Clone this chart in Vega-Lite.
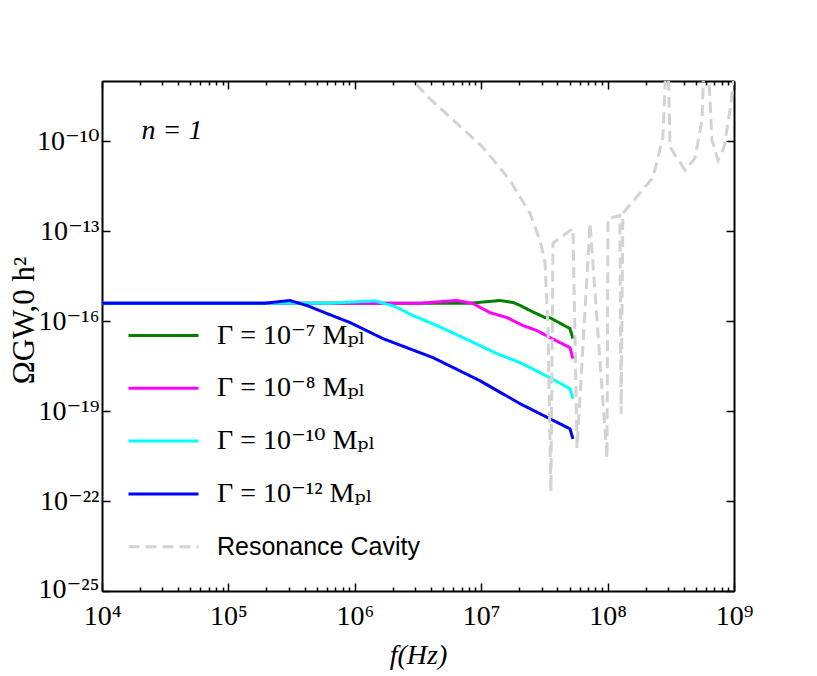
{
  "$schema": "https://vega.github.io/schema/vega-lite/v6.json",
  "width": 632,
  "height": 510,
  "autosize": {"type": "none"},
  "padding": {"left": 102, "top": 81, "right": 83, "bottom": 85},
  "background": "white",
  "config": {"view": {"stroke": null}, "font": "Liberation Serif"},
  "data": {"values": [
    {"s": "Γ = 10⁻⁷ Mₚₗ", "f": 1e4, "o": 3.92e-16},
    {"s": "Γ = 10⁻⁷ Mₚₗ", "f": 8.15e6, "o": 3.92e-16},
    {"s": "Γ = 10⁻⁷ Mₚₗ", "f": 1.41e7, "o": 4.82e-16},
    {"s": "Γ = 10⁻⁷ Mₚₗ", "f": 1.79e7, "o": 4.13e-16},
    {"s": "Γ = 10⁻⁷ Mₚₗ", "f": 2.03e7, "o": 3.3e-16},
    {"s": "Γ = 10⁻⁷ Mₚₗ", "f": 2.43e7, "o": 2.24e-16},
    {"s": "Γ = 10⁻⁷ Mₚₗ", "f": 3.2e7, "o": 1.3e-16},
    {"s": "Γ = 10⁻⁷ Mₚₗ", "f": 3.5e7, "o": 1.28e-16},
    {"s": "Γ = 10⁻⁷ Mₚₗ", "f": 5.04e7, "o": 5.6e-17},
    {"s": "Γ = 10⁻⁷ Mₚₗ", "f": 5.32e7, "o": 2.59e-17},
    {"s": "Γ = 10⁻⁸ Mₚₗ", "f": 1e4, "o": 3.92e-16},
    {"s": "Γ = 10⁻⁸ Mₚₗ", "f": 3.28e6, "o": 3.92e-16},
    {"s": "Γ = 10⁻⁸ Mₚₗ", "f": 6.44e6, "o": 4.82e-16},
    {"s": "Γ = 10⁻⁸ Mₚₗ", "f": 8.61e6, "o": 3.83e-16},
    {"s": "Γ = 10⁻⁸ Mₚₗ", "f": 1.17e7, "o": 1.91e-16},
    {"s": "Γ = 10⁻⁸ Mₚₗ", "f": 1.6e7, "o": 1.3e-16},
    {"s": "Γ = 10⁻⁸ Mₚₗ", "f": 2.14e7, "o": 7.05e-17},
    {"s": "Γ = 10⁻⁸ Mₚₗ", "f": 2.76e7, "o": 4.8e-17},
    {"s": "Γ = 10⁻⁸ Mₚₗ", "f": 3.5e7, "o": 2.8e-17},
    {"s": "Γ = 10⁻⁸ Mₚₗ", "f": 5.04e7, "o": 1.3e-17},
    {"s": "Γ = 10⁻⁸ Mₚₗ", "f": 5.32e7, "o": 5.6e-18},
    {"s": "Γ = 10⁻¹⁰ Mₚₗ", "f": 1e4, "o": 3.92e-16},
    {"s": "Γ = 10⁻¹⁰ Mₚₗ", "f": 6.37e5, "o": 3.92e-16},
    {"s": "Γ = 10⁻¹⁰ Mₚₗ", "f": 1.44e6, "o": 4.7e-16},
    {"s": "Γ = 10⁻¹⁰ Mₚₗ", "f": 2.08e6, "o": 3.04e-16},
    {"s": "Γ = 10⁻¹⁰ Mₚₗ", "f": 2.89e6, "o": 1.52e-16},
    {"s": "Γ = 10⁻¹⁰ Mₚₗ", "f": 4.47e6, "o": 7.05e-17},
    {"s": "Γ = 10⁻¹⁰ Mₚₗ", "f": 7.18e6, "o": 2.8e-17},
    {"s": "Γ = 10⁻¹⁰ Mₚₗ", "f": 1.33e7, "o": 8.2e-18},
    {"s": "Γ = 10⁻¹⁰ Mₚₗ", "f": 2.03e7, "o": 4.1e-18},
    {"s": "Γ = 10⁻¹⁰ Mₚₗ", "f": 3.5e7, "o": 1.29e-18},
    {"s": "Γ = 10⁻¹⁰ Mₚₗ", "f": 5.04e7, "o": 5.5e-19},
    {"s": "Γ = 10⁻¹⁰ Mₚₗ", "f": 5.32e7, "o": 2.57e-19},
    {"s": "Γ = 10⁻¹² Mₚₗ", "f": 1e4, "o": 3.92e-16},
    {"s": "Γ = 10⁻¹² Mₚₗ", "f": 1.95e5, "o": 3.92e-16},
    {"s": "Γ = 10⁻¹² Mₚₗ", "f": 3.07e5, "o": 4.82e-16},
    {"s": "Γ = 10⁻¹² Mₚₗ", "f": 4.19e5, "o": 3.28e-16},
    {"s": "Γ = 10⁻¹² Mₚₗ", "f": 6.03e5, "o": 1.77e-16},
    {"s": "Γ = 10⁻¹² Mₚₗ", "f": 9.16e5, "o": 8.9e-17},
    {"s": "Γ = 10⁻¹² Mₚₗ", "f": 1.67e6, "o": 2.59e-17},
    {"s": "Γ = 10⁻¹² Mₚₗ", "f": 4.16e6, "o": 6.0e-18},
    {"s": "Γ = 10⁻¹² Mₚₗ", "f": 9.78e6, "o": 1.02e-18},
    {"s": "Γ = 10⁻¹² Mₚₗ", "f": 2.03e7, "o": 1.75e-19},
    {"s": "Γ = 10⁻¹² Mₚₗ", "f": 3.5e7, "o": 5.5e-20},
    {"s": "Γ = 10⁻¹² Mₚₗ", "f": 5.04e7, "o": 2.55e-20},
    {"s": "Γ = 10⁻¹² Mₚₗ", "f": 5.32e7, "o": 1.18e-20},
    {"s": "Resonance Cavity", "f": 2.49e6, "o": 2.0e-8},
    {"s": "Resonance Cavity", "f": 2.89e6, "o": 1.0e-8},
    {"s": "Resonance Cavity", "f": 3.94e6, "o": 2.5e-9},
    {"s": "Resonance Cavity", "f": 5.66e6, "o": 6.3e-10},
    {"s": "Resonance Cavity", "f": 1.03e7, "o": 6.2e-11},
    {"s": "Resonance Cavity", "f": 1.69e7, "o": 4.9e-12},
    {"s": "Resonance Cavity", "f": 2.43e7, "o": 3.9e-13},
    {"s": "Resonance Cavity", "f": 2.92e7, "o": 4.9e-14},
    {"s": "Resonance Cavity", "f": 3.2e7, "o": 8.9e-15},
    {"s": "Resonance Cavity", "f": 3.38e7, "o": 4.8e-17},
    {"s": "Resonance Cavity", "f": 3.56e7, "o": 2.1e-22},
    {"s": "Resonance Cavity", "f": 3.7e7, "o": 3.9e-14},
    {"s": "Resonance Cavity", "f": 5.32e7, "o": 1.23e-13},
    {"s": "Resonance Cavity", "f": 5.73e7, "o": 5.9e-21},
    {"s": "Resonance Cavity", "f": 7.26e7, "o": 1.8e-13},
    {"s": "Resonance Cavity", "f": 9.89e7, "o": 2.7e-21},
    {"s": "Resonance Cavity", "f": 1.007e8, "o": 2.6e-13},
    {"s": "Resonance Cavity", "f": 1.25e8, "o": 3.3e-13},
    {"s": "Resonance Cavity", "f": 1.28e8, "o": 8.1e-20},
    {"s": "Resonance Cavity", "f": 1.32e8, "o": 3.9e-13},
    {"s": "Resonance Cavity", "f": 1.8e8, "o": 1.8e-12},
    {"s": "Resonance Cavity", "f": 2.29e8, "o": 6.2e-12},
    {"s": "Resonance Cavity", "f": 2.74e8, "o": 1.35e-10},
    {"s": "Resonance Cavity", "f": 2.9e8, "o": 5e-8},
    {"s": "Resonance Cavity", "f": 3.01e8, "o": 5e-8},
    {"s": "Resonance Cavity", "f": 3.12e8, "o": 6.2e-11},
    {"s": "Resonance Cavity", "f": 4.1e8, "o": 1.07e-11},
    {"s": "Resonance Cavity", "f": 4.91e8, "o": 2.7e-11},
    {"s": "Resonance Cavity", "f": 5.58e8, "o": 5e-10},
    {"s": "Resonance Cavity", "f": 5.79e8, "o": 5e-8},
    {"s": "Resonance Cavity", "f": 6.22e8, "o": 5e-8},
    {"s": "Resonance Cavity", "f": 6.7e8, "o": 1.07e-10},
    {"s": "Resonance Cavity", "f": 7.47e8, "o": 2.3e-11},
    {"s": "Resonance Cavity", "f": 8.34e8, "o": 6.2e-11},
    {"s": "Resonance Cavity", "f": 9.3e8, "o": 1.07e-9},
    {"s": "Resonance Cavity", "f": 1.04e9, "o": 5e-8}
  ]},
  "layer": [
    {
      "mark": {"type": "line", "clip": true, "strokeWidth": 3},
      "encoding": {
        "x": {"field": "f", "type": "quantitative",
          "scale": {"type": "log", "domain": [1e4, 1e9], "nice": false},
          "axis": {
            "orient": "bottom",
            "values": [1e4,2e4,3e4,4e4,5e4,6e4,7e4,8e4,9e4,1e5,2e5,3e5,4e5,5e5,6e5,7e5,8e5,9e5,1e6,2e6,3e6,4e6,5e6,6e6,7e6,8e6,9e6,1e7,2e7,3e7,4e7,5e7,6e7,7e7,8e7,9e7,1e8,2e8,3e8,4e8,5e8,6e8,7e8,8e8,9e8,1e9],
            "labelExpr": "abs(log(datum.value)/LN10 - round(log(datum.value)/LN10)) < 0.001 ? '10' + replace(replace(replace(replace(replace(replace(replace(replace(replace(replace(replace(''+round(log(datum.value)/LN10),regexp('-','g'),'⁻'),regexp('0','g'),'⁰'),regexp('1','g'),'¹'),regexp('2','g'),'²'),regexp('3','g'),'³'),regexp('4','g'),'⁴'),regexp('5','g'),'⁵'),regexp('6','g'),'⁶'),regexp('7','g'),'⁷'),regexp('8','g'),'⁸'),regexp('9','g'),'⁹') : ''",
            "tickSize": {"condition": {"test": "abs(log(datum.value)/LN10 - round(log(datum.value)/LN10)) < 0.001", "value": -8}, "value": -4},
            "tickWidth": 1.5, "tickColor": "black",
            "domainColor": "black", "domainWidth": 2,
            "labelFont": "Liberation Serif, DejaVu Serif", "labelFontSize": 28, "labelColor": "black",
            "labelBaseline": "alphabetic", "labelPadding": 41,
            "labelFlush": false, "labelOverlap": false, "labelBound": false,
            "grid": false,
            "title": "f(Hz)", "titleFont": "Liberation Serif", "titleFontStyle": "italic",
            "titleFontSize": 28, "titleFontWeight": "normal", "titleColor": "black",
            "titleX": 316, "titleY": 72, "titleBaseline": "alphabetic", "titleAlign": "center"
          }},
        "y": {"field": "o", "type": "quantitative",
          "scale": {"type": "log", "domain": [1e-25, 1e-8], "nice": false},
          "axis": {
            "orient": "left",
            "values": [1e-25, 1e-22, 1e-19, 1e-16, 1e-13, 1e-10],
            "labelExpr": "'10' + replace(replace(replace(replace(replace(replace(replace(replace(replace(replace(replace(''+round(log(datum.value)/LN10),regexp('-','g'),'⁻'),regexp('0','g'),'⁰'),regexp('1','g'),'¹'),regexp('2','g'),'²'),regexp('3','g'),'³'),regexp('4','g'),'⁴'),regexp('5','g'),'⁵'),regexp('6','g'),'⁶'),regexp('7','g'),'⁷'),regexp('8','g'),'⁸'),regexp('9','g'),'⁹')",
            "tickSize": -8, "tickWidth": 1.5, "tickColor": "black",
            "domainColor": "black", "domainWidth": 2,
            "labelFont": "Liberation Serif, DejaVu Serif", "labelFontSize": 28, "labelColor": "black",
            "labelBaseline": "middle", "labelAlign": "right", "labelPadding": 11,
            "labelOffset": {"condition": {"test": "datum.value < 1e-24", "value": -2}, "value": 0},
            "labelFlush": false, "labelOverlap": false, "labelBound": false,
            "grid": false,
            "title": "ΩGW,0 h²", "titleFont": "Liberation Serif", "titleFontSize": 31,
            "titleFontWeight": "normal", "titleColor": "black",
            "titleAngle": -90, "titleX": -69, "titleY": 239,
            "titleBaseline": "alphabetic", "titleAlign": "center"
          }},
        "color": {"field": "s", "type": "nominal",
          "scale": {"domain": ["Γ = 10⁻⁷ Mₚₗ", "Γ = 10⁻⁸ Mₚₗ", "Γ = 10⁻¹⁰ Mₚₗ", "Γ = 10⁻¹² Mₚₗ", "Resonance Cavity"],
                    "range": ["#008000", "#ff00ff", "#00ffff", "#0000ff", "#d3d3d3"]},
          "legend": {"orient": "none", "legendX": 25, "legendY": 218, "title": null, "padding": 0,
            "symbolType": "stroke", "symbolSize": 4900, "symbolStrokeWidth": 3,
            "labelFont": {"expr": "datum.label == 'Resonance Cavity' ? 'Liberation Sans' : 'Liberation Serif, DejaVu Serif'"},
            "labelFontSize": {"expr": "datum.label == 'Resonance Cavity' ? 25 : 28"},
            "labelColor": "black", "labelOffset": 17, "labelLimit": 500,
            "rowPadding": 1.8}},
        "strokeDash": {"field": "s", "type": "nominal",
          "scale": {"domain": ["Γ = 10⁻⁷ Mₚₗ", "Γ = 10⁻⁸ Mₚₗ", "Γ = 10⁻¹⁰ Mₚₗ", "Γ = 10⁻¹² Mₚₗ", "Resonance Cavity"],
                    "range": [[1, 0], [1, 0], [1, 0], [1, 0], [11, 6]]},
          "legend": {"orient": "none", "legendX": 25, "legendY": 218, "title": null, "padding": 0,
            "symbolType": "stroke", "symbolSize": 4900, "symbolStrokeWidth": 3,
            "labelFont": {"expr": "datum.label == 'Resonance Cavity' ? 'Liberation Sans' : 'Liberation Serif, DejaVu Serif'"},
            "labelFontSize": {"expr": "datum.label == 'Resonance Cavity' ? 25 : 28"},
            "labelColor": "black", "labelOffset": 17, "labelLimit": 500,
            "rowPadding": 1.8}}
      }
    },
    {
      "mark": {"type": "point", "opacity": 0},
      "encoding": {
        "x": {"field": "f", "type": "quantitative",
          "scale": {"type": "log", "domain": [1e4, 1e9], "nice": false},
          "axis": {
            "orient": "top",
            "values": [1e4,2e4,3e4,4e4,5e4,6e4,7e4,8e4,9e4,1e5,2e5,3e5,4e5,5e5,6e5,7e5,8e5,9e5,1e6,2e6,3e6,4e6,5e6,6e6,7e6,8e6,9e6,1e7,2e7,3e7,4e7,5e7,6e7,7e7,8e7,9e7,1e8,2e8,3e8,4e8,5e8,6e8,7e8,8e8,9e8,1e9],
            "labels": false,
            "tickSize": {"condition": {"test": "abs(log(datum.value)/LN10 - round(log(datum.value)/LN10)) < 0.001", "value": -8}, "value": -4},
            "tickWidth": 1.5, "tickColor": "black",
            "domainColor": "black", "domainWidth": 2,
            "grid": false, "title": null
          }},
        "y": {"field": "o", "type": "quantitative",
          "scale": {"type": "log", "domain": [1e-25, 1e-8], "nice": false},
          "axis": {
            "orient": "right",
            "values": [1e-25, 1e-22, 1e-19, 1e-16, 1e-13, 1e-10],
            "labels": false,
            "tickSize": -8, "tickWidth": 1.5, "tickColor": "black",
            "domainColor": "black", "domainWidth": 2,
            "grid": false, "title": null
          }}
      }
    },
    {
      "data": {"values": [{"label": "n = 1"}]},
      "mark": {"type": "text", "font": "Liberation Serif", "fontStyle": "italic", "fontSize": 28, "align": "center", "baseline": "middle", "color": "black"},
      "encoding": {
        "x": {"datum": 35800, "type": "quantitative", "axis": null},
        "y": {"datum": 2.14e-10, "type": "quantitative", "axis": null},
        "text": {"field": "label"}
      }
    }
  ],
  "resolve": {"axis": {"x": "independent", "y": "independent"}}
}
